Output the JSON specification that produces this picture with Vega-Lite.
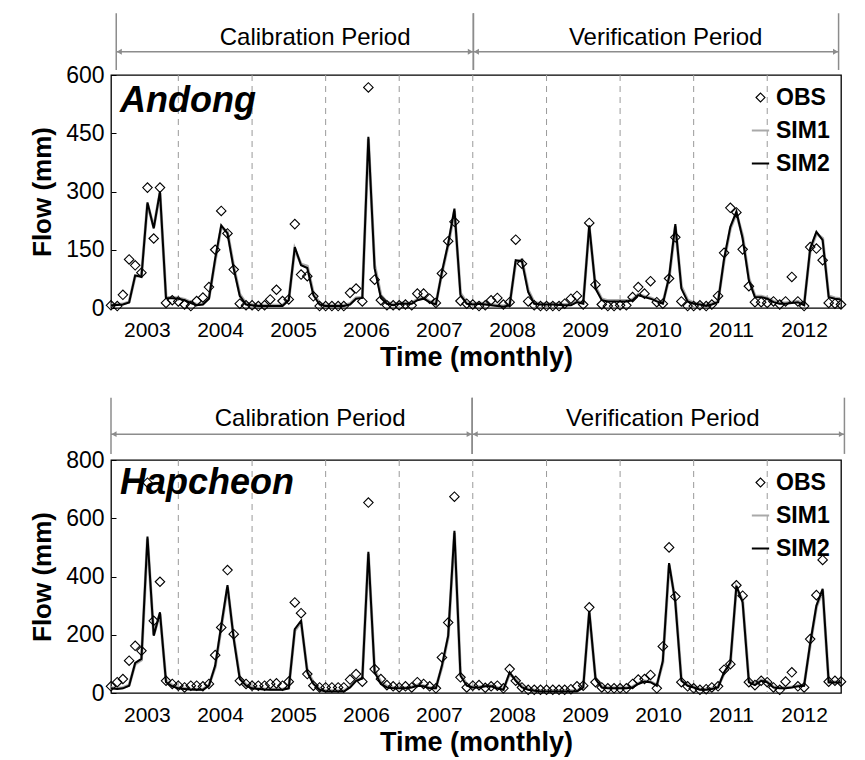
{
  "$schema": "https://vega.github.io/schema/vega-lite/v6.json",
  "background": "white",
  "padding": {"left": 28, "top": 12, "right": 5, "bottom": 5},
  "config": {"font": "Liberation Sans", "view": {"stroke": null}},
  "datasets": {
    "yearEnds": [
      {"date": "2003-12"}, {"date": "2004-12"}, {"date": "2005-12"}, {"date": "2006-12"}, {"date": "2007-12"},
      {"date": "2008-12"}, {"date": "2009-12"}, {"date": "2010-12"}, {"date": "2011-12"}
    ],
    "periodsA": [
      {"period": "Calibration Period", "start": "2003-01-27", "end": "2007-12-04", "mid": "2005-10-10"},
      {"period": "Verification Period", "start": "2007-12-04", "end": "2012-11-19", "mid": "2010-07-15"}
    ],
    "periodsB": [
      {"period": "Calibration Period", "start": "2003-01-01", "end": "2007-11-28", "mid": "2005-09-15"},
      {"period": "Verification Period", "start": "2007-11-28", "end": "2012-12-18", "mid": "2010-07-01"}
    ],
    "andong": [
      {"date": "2003-01", "obs": 7, "sim1": 8, "sim2": 7},
      {"date": "2003-02", "obs": 5, "sim1": 9, "sim2": 8},
      {"date": "2003-03", "obs": 34, "sim1": 10, "sim2": 9},
      {"date": "2003-04", "obs": 125, "sim1": 16, "sim2": 14},
      {"date": "2003-05", "obs": 110, "sim1": 82, "sim2": 84},
      {"date": "2003-06", "obs": 91, "sim1": 84, "sim2": 80},
      {"date": "2003-07", "obs": 310, "sim1": 268, "sim2": 272},
      {"date": "2003-08", "obs": 179, "sim1": 208, "sim2": 205},
      {"date": "2003-09", "obs": 310, "sim1": 296, "sim2": 300},
      {"date": "2003-10", "obs": 13, "sim1": 28, "sim2": 25},
      {"date": "2003-11", "obs": 20, "sim1": 27, "sim2": 25},
      {"date": "2003-12", "obs": 17, "sim1": 26, "sim2": 24},
      {"date": "2004-01", "obs": 9, "sim1": 22, "sim2": 20},
      {"date": "2004-02", "obs": 5, "sim1": 15, "sim2": 13},
      {"date": "2004-03", "obs": 18, "sim1": 9, "sim2": 7},
      {"date": "2004-04", "obs": 27, "sim1": 11, "sim2": 9},
      {"date": "2004-05", "obs": 54, "sim1": 26, "sim2": 24},
      {"date": "2004-06", "obs": 150, "sim1": 122, "sim2": 127},
      {"date": "2004-07", "obs": 250, "sim1": 209, "sim2": 213},
      {"date": "2004-08", "obs": 192, "sim1": 195, "sim2": 192},
      {"date": "2004-09", "obs": 99, "sim1": 106, "sim2": 101},
      {"date": "2004-10", "obs": 11, "sim1": 35, "sim2": 31},
      {"date": "2004-11", "obs": 7, "sim1": 12, "sim2": 9},
      {"date": "2004-12", "obs": 7, "sim1": 9, "sim2": 7},
      {"date": "2005-01", "obs": 5, "sim1": 7, "sim2": 5},
      {"date": "2005-02", "obs": 7, "sim1": 7, "sim2": 5},
      {"date": "2005-03", "obs": 22, "sim1": 7, "sim2": 5},
      {"date": "2005-04", "obs": 47, "sim1": 7, "sim2": 5},
      {"date": "2005-05", "obs": 18, "sim1": 7, "sim2": 5},
      {"date": "2005-06", "obs": 22, "sim1": 22, "sim2": 20},
      {"date": "2005-07", "obs": 216, "sim1": 152, "sim2": 157},
      {"date": "2005-08", "obs": 86, "sim1": 113, "sim2": 110},
      {"date": "2005-09", "obs": 82, "sim1": 108, "sim2": 103},
      {"date": "2005-10", "obs": 30, "sim1": 38, "sim2": 33},
      {"date": "2005-11", "obs": 5, "sim1": 12, "sim2": 9},
      {"date": "2005-12", "obs": 5, "sim1": 7, "sim2": 5},
      {"date": "2006-01", "obs": 5, "sim1": 7, "sim2": 5},
      {"date": "2006-02", "obs": 5, "sim1": 7, "sim2": 5},
      {"date": "2006-03", "obs": 5, "sim1": 7, "sim2": 5},
      {"date": "2006-04", "obs": 39, "sim1": 11, "sim2": 9},
      {"date": "2006-05", "obs": 50, "sim1": 26, "sim2": 24},
      {"date": "2006-06", "obs": 17, "sim1": 28, "sim2": 26},
      {"date": "2006-07", "obs": 568, "sim1": 436, "sim2": 441},
      {"date": "2006-08", "obs": 73, "sim1": 110, "sim2": 102},
      {"date": "2006-09", "obs": 20, "sim1": 33, "sim2": 26},
      {"date": "2006-10", "obs": 7, "sim1": 15, "sim2": 11},
      {"date": "2006-11", "obs": 7, "sim1": 10, "sim2": 7},
      {"date": "2006-12", "obs": 7, "sim1": 13, "sim2": 11},
      {"date": "2007-01", "obs": 9, "sim1": 13, "sim2": 11},
      {"date": "2007-02", "obs": 7, "sim1": 13, "sim2": 11},
      {"date": "2007-03", "obs": 37, "sim1": 22, "sim2": 20},
      {"date": "2007-04", "obs": 37, "sim1": 26, "sim2": 24},
      {"date": "2007-05", "obs": 24, "sim1": 17, "sim2": 15},
      {"date": "2007-06", "obs": 13, "sim1": 11, "sim2": 9},
      {"date": "2007-07", "obs": 89, "sim1": 90, "sim2": 93},
      {"date": "2007-08", "obs": 172, "sim1": 162, "sim2": 166},
      {"date": "2007-09", "obs": 222, "sim1": 250, "sim2": 256},
      {"date": "2007-10", "obs": 18, "sim1": 38, "sim2": 33},
      {"date": "2007-11", "obs": 11, "sim1": 14, "sim2": 11},
      {"date": "2007-12", "obs": 9, "sim1": 11, "sim2": 9},
      {"date": "2008-01", "obs": 5, "sim1": 13, "sim2": 11},
      {"date": "2008-02", "obs": 7, "sim1": 11, "sim2": 9},
      {"date": "2008-03", "obs": 20, "sim1": 9, "sim2": 7},
      {"date": "2008-04", "obs": 26, "sim1": 7, "sim2": 5},
      {"date": "2008-05", "obs": 9, "sim1": 5, "sim2": 3},
      {"date": "2008-06", "obs": 15, "sim1": 9, "sim2": 7},
      {"date": "2008-07", "obs": 176, "sim1": 118, "sim2": 123},
      {"date": "2008-08", "obs": 114, "sim1": 124, "sim2": 120},
      {"date": "2008-09", "obs": 17, "sim1": 46, "sim2": 41},
      {"date": "2008-10", "obs": 7, "sim1": 14, "sim2": 11},
      {"date": "2008-11", "obs": 5, "sim1": 11, "sim2": 9},
      {"date": "2008-12", "obs": 5, "sim1": 11, "sim2": 9},
      {"date": "2009-01", "obs": 5, "sim1": 11, "sim2": 9},
      {"date": "2009-02", "obs": 5, "sim1": 10, "sim2": 8},
      {"date": "2009-03", "obs": 11, "sim1": 9, "sim2": 7},
      {"date": "2009-04", "obs": 24, "sim1": 9, "sim2": 7},
      {"date": "2009-05", "obs": 31, "sim1": 17, "sim2": 15},
      {"date": "2009-06", "obs": 9, "sim1": 13, "sim2": 11},
      {"date": "2009-07", "obs": 219, "sim1": 208, "sim2": 213},
      {"date": "2009-08", "obs": 60, "sim1": 55, "sim2": 50},
      {"date": "2009-09", "obs": 9, "sim1": 23, "sim2": 20},
      {"date": "2009-10", "obs": 5, "sim1": 19, "sim2": 17},
      {"date": "2009-11", "obs": 5, "sim1": 19, "sim2": 17},
      {"date": "2009-12", "obs": 7, "sim1": 19, "sim2": 17},
      {"date": "2010-01", "obs": 7, "sim1": 19, "sim2": 17},
      {"date": "2010-02", "obs": 28, "sim1": 22, "sim2": 20},
      {"date": "2010-03", "obs": 54, "sim1": 35, "sim2": 33},
      {"date": "2010-04", "obs": 37, "sim1": 30, "sim2": 28},
      {"date": "2010-05", "obs": 69, "sim1": 26, "sim2": 24},
      {"date": "2010-06", "obs": 15, "sim1": 19, "sim2": 17},
      {"date": "2010-07", "obs": 11, "sim1": 13, "sim2": 11},
      {"date": "2010-08", "obs": 76, "sim1": 76, "sim2": 80},
      {"date": "2010-09", "obs": 182, "sim1": 210, "sim2": 216},
      {"date": "2010-10", "obs": 17, "sim1": 55, "sim2": 50},
      {"date": "2010-11", "obs": 5, "sim1": 20, "sim2": 17},
      {"date": "2010-12", "obs": 5, "sim1": 13, "sim2": 11},
      {"date": "2011-01", "obs": 7, "sim1": 11, "sim2": 9},
      {"date": "2011-02", "obs": 5, "sim1": 7, "sim2": 5},
      {"date": "2011-03", "obs": 9, "sim1": 11, "sim2": 9},
      {"date": "2011-04", "obs": 31, "sim1": 17, "sim2": 15},
      {"date": "2011-05", "obs": 142, "sim1": 122, "sim2": 127},
      {"date": "2011-06", "obs": 258, "sim1": 205, "sim2": 209},
      {"date": "2011-07", "obs": 246, "sim1": 244, "sim2": 248},
      {"date": "2011-08", "obs": 151, "sim1": 185, "sim2": 179},
      {"date": "2011-09", "obs": 56, "sim1": 76, "sim2": 71},
      {"date": "2011-10", "obs": 15, "sim1": 31, "sim2": 28},
      {"date": "2011-11", "obs": 15, "sim1": 30, "sim2": 28},
      {"date": "2011-12", "obs": 13, "sim1": 26, "sim2": 24},
      {"date": "2012-01", "obs": 17, "sim1": 17, "sim2": 15},
      {"date": "2012-02", "obs": 9, "sim1": 13, "sim2": 11},
      {"date": "2012-03", "obs": 17, "sim1": 13, "sim2": 11},
      {"date": "2012-04", "obs": 80, "sim1": 15, "sim2": 13},
      {"date": "2012-05", "obs": 17, "sim1": 17, "sim2": 15},
      {"date": "2012-06", "obs": 5, "sim1": 9, "sim2": 7},
      {"date": "2012-07", "obs": 157, "sim1": 148, "sim2": 153},
      {"date": "2012-08", "obs": 153, "sim1": 192, "sim2": 196},
      {"date": "2012-09", "obs": 123, "sim1": 179, "sim2": 175},
      {"date": "2012-10", "obs": 13, "sim1": 31, "sim2": 28},
      {"date": "2012-11", "obs": 11, "sim1": 26, "sim2": 24},
      {"date": "2012-12", "obs": 9, "sim1": 24, "sim2": 22}
    ],
    "hapcheon": [
      {"date": "2003-01", "obs": 23, "sim1": 18, "sim2": 16},
      {"date": "2003-02", "obs": 37, "sim1": 16, "sim2": 14},
      {"date": "2003-03", "obs": 48, "sim1": 18, "sim2": 16},
      {"date": "2003-04", "obs": 111, "sim1": 27, "sim2": 25},
      {"date": "2003-05", "obs": 162, "sim1": 100, "sim2": 103},
      {"date": "2003-06", "obs": 145, "sim1": 114, "sim2": 117},
      {"date": "2003-07", "obs": 722, "sim1": 530, "sim2": 537},
      {"date": "2003-08", "obs": 248, "sim1": 200, "sim2": 197},
      {"date": "2003-09", "obs": 382, "sim1": 272, "sim2": 277},
      {"date": "2003-10", "obs": 42, "sim1": 42, "sim2": 37},
      {"date": "2003-11", "obs": 31, "sim1": 27, "sim2": 23},
      {"date": "2003-12", "obs": 25, "sim1": 19, "sim2": 16},
      {"date": "2004-01", "obs": 19, "sim1": 16, "sim2": 14},
      {"date": "2004-02", "obs": 25, "sim1": 14, "sim2": 12},
      {"date": "2004-03", "obs": 25, "sim1": 13, "sim2": 11},
      {"date": "2004-04", "obs": 23, "sim1": 13, "sim2": 11},
      {"date": "2004-05", "obs": 31, "sim1": 27, "sim2": 25},
      {"date": "2004-06", "obs": 130, "sim1": 90, "sim2": 94},
      {"date": "2004-07", "obs": 225, "sim1": 226, "sim2": 231},
      {"date": "2004-08", "obs": 422, "sim1": 364, "sim2": 370},
      {"date": "2004-09", "obs": 202, "sim1": 190, "sim2": 185},
      {"date": "2004-10", "obs": 42, "sim1": 53, "sim2": 48},
      {"date": "2004-11", "obs": 31, "sim1": 29, "sim2": 25},
      {"date": "2004-12", "obs": 25, "sim1": 19, "sim2": 16},
      {"date": "2005-01", "obs": 25, "sim1": 16, "sim2": 14},
      {"date": "2005-02", "obs": 25, "sim1": 14, "sim2": 12},
      {"date": "2005-03", "obs": 31, "sim1": 13, "sim2": 11},
      {"date": "2005-04", "obs": 33, "sim1": 13, "sim2": 11},
      {"date": "2005-05", "obs": 25, "sim1": 13, "sim2": 11},
      {"date": "2005-06", "obs": 39, "sim1": 18, "sim2": 16},
      {"date": "2005-07", "obs": 311, "sim1": 214, "sim2": 219},
      {"date": "2005-08", "obs": 274, "sim1": 244, "sim2": 248},
      {"date": "2005-09", "obs": 65, "sim1": 76, "sim2": 71},
      {"date": "2005-10", "obs": 25, "sim1": 36, "sim2": 31},
      {"date": "2005-11", "obs": 19, "sim1": 14, "sim2": 11},
      {"date": "2005-12", "obs": 19, "sim1": 8, "sim2": 5},
      {"date": "2006-01", "obs": 19, "sim1": 8, "sim2": 5},
      {"date": "2006-02", "obs": 19, "sim1": 8, "sim2": 5},
      {"date": "2006-03", "obs": 19, "sim1": 8, "sim2": 5},
      {"date": "2006-04", "obs": 46, "sim1": 21, "sim2": 19},
      {"date": "2006-05", "obs": 65, "sim1": 44, "sim2": 42},
      {"date": "2006-06", "obs": 39, "sim1": 52, "sim2": 50},
      {"date": "2006-07", "obs": 654, "sim1": 478, "sim2": 485},
      {"date": "2006-08", "obs": 82, "sim1": 78, "sim2": 71},
      {"date": "2006-09", "obs": 48, "sim1": 37, "sim2": 31},
      {"date": "2006-10", "obs": 27, "sim1": 23, "sim2": 19},
      {"date": "2006-11", "obs": 23, "sim1": 19, "sim2": 16},
      {"date": "2006-12", "obs": 19, "sim1": 18, "sim2": 16},
      {"date": "2007-01", "obs": 23, "sim1": 18, "sim2": 16},
      {"date": "2007-02", "obs": 19, "sim1": 21, "sim2": 19},
      {"date": "2007-03", "obs": 37, "sim1": 27, "sim2": 25},
      {"date": "2007-04", "obs": 31, "sim1": 25, "sim2": 23},
      {"date": "2007-05", "obs": 23, "sim1": 18, "sim2": 16},
      {"date": "2007-06", "obs": 16, "sim1": 18, "sim2": 16},
      {"date": "2007-07", "obs": 122, "sim1": 90, "sim2": 94},
      {"date": "2007-08", "obs": 242, "sim1": 192, "sim2": 197},
      {"date": "2007-09", "obs": 674, "sim1": 550, "sim2": 557},
      {"date": "2007-10", "obs": 54, "sim1": 65, "sim2": 59},
      {"date": "2007-11", "obs": 19, "sim1": 29, "sim2": 25},
      {"date": "2007-12", "obs": 25, "sim1": 21, "sim2": 19},
      {"date": "2008-01", "obs": 27, "sim1": 21, "sim2": 19},
      {"date": "2008-02", "obs": 18, "sim1": 25, "sim2": 23},
      {"date": "2008-03", "obs": 23, "sim1": 25, "sim2": 23},
      {"date": "2008-04", "obs": 25, "sim1": 18, "sim2": 16},
      {"date": "2008-05", "obs": 16, "sim1": 13, "sim2": 11},
      {"date": "2008-06", "obs": 82, "sim1": 66, "sim2": 71},
      {"date": "2008-07", "obs": 42, "sim1": 47, "sim2": 42},
      {"date": "2008-08", "obs": 19, "sim1": 23, "sim2": 19},
      {"date": "2008-09", "obs": 11, "sim1": 14, "sim2": 11},
      {"date": "2008-10", "obs": 11, "sim1": 10, "sim2": 8},
      {"date": "2008-11", "obs": 11, "sim1": 8, "sim2": 5},
      {"date": "2008-12", "obs": 11, "sim1": 8, "sim2": 5},
      {"date": "2009-01", "obs": 11, "sim1": 8, "sim2": 5},
      {"date": "2009-02", "obs": 11, "sim1": 8, "sim2": 5},
      {"date": "2009-03", "obs": 11, "sim1": 8, "sim2": 5},
      {"date": "2009-04", "obs": 13, "sim1": 8, "sim2": 5},
      {"date": "2009-05", "obs": 23, "sim1": 8, "sim2": 5},
      {"date": "2009-06", "obs": 25, "sim1": 21, "sim2": 19},
      {"date": "2009-07", "obs": 294, "sim1": 276, "sim2": 282},
      {"date": "2009-08", "obs": 37, "sim1": 52, "sim2": 48},
      {"date": "2009-09", "obs": 19, "sim1": 22, "sim2": 19},
      {"date": "2009-10", "obs": 16, "sim1": 18, "sim2": 16},
      {"date": "2009-11", "obs": 16, "sim1": 18, "sim2": 16},
      {"date": "2009-12", "obs": 16, "sim1": 18, "sim2": 16},
      {"date": "2010-01", "obs": 16, "sim1": 18, "sim2": 16},
      {"date": "2010-02", "obs": 31, "sim1": 21, "sim2": 19},
      {"date": "2010-03", "obs": 46, "sim1": 33, "sim2": 31},
      {"date": "2010-04", "obs": 48, "sim1": 41, "sim2": 39},
      {"date": "2010-05", "obs": 62, "sim1": 39, "sim2": 37},
      {"date": "2010-06", "obs": 16, "sim1": 27, "sim2": 25},
      {"date": "2010-07", "obs": 160, "sim1": 105, "sim2": 110},
      {"date": "2010-08", "obs": 500, "sim1": 440, "sim2": 446},
      {"date": "2010-09", "obs": 331, "sim1": 316, "sim2": 311},
      {"date": "2010-10", "obs": 37, "sim1": 47, "sim2": 42},
      {"date": "2010-11", "obs": 23, "sim1": 28, "sim2": 25},
      {"date": "2010-12", "obs": 16, "sim1": 21, "sim2": 19},
      {"date": "2011-01", "obs": 11, "sim1": 13, "sim2": 11},
      {"date": "2011-02", "obs": 13, "sim1": 13, "sim2": 11},
      {"date": "2011-03", "obs": 19, "sim1": 16, "sim2": 14},
      {"date": "2011-04", "obs": 23, "sim1": 21, "sim2": 19},
      {"date": "2011-05", "obs": 80, "sim1": 67, "sim2": 71},
      {"date": "2011-06", "obs": 99, "sim1": 101, "sim2": 105},
      {"date": "2011-07", "obs": 370, "sim1": 362, "sim2": 368},
      {"date": "2011-08", "obs": 334, "sim1": 316, "sim2": 311},
      {"date": "2011-09", "obs": 37, "sim1": 42, "sim2": 37},
      {"date": "2011-10", "obs": 27, "sim1": 30, "sim2": 27},
      {"date": "2011-11", "obs": 42, "sim1": 44, "sim2": 42},
      {"date": "2011-12", "obs": 37, "sim1": 39, "sim2": 37},
      {"date": "2012-01", "obs": 19, "sim1": 21, "sim2": 19},
      {"date": "2012-02", "obs": 11, "sim1": 18, "sim2": 16},
      {"date": "2012-03", "obs": 39, "sim1": 18, "sim2": 16},
      {"date": "2012-04", "obs": 71, "sim1": 21, "sim2": 19},
      {"date": "2012-05", "obs": 23, "sim1": 25, "sim2": 23},
      {"date": "2012-06", "obs": 19, "sim1": 27, "sim2": 25},
      {"date": "2012-07", "obs": 185, "sim1": 165, "sim2": 170},
      {"date": "2012-08", "obs": 336, "sim1": 295, "sim2": 300},
      {"date": "2012-09", "obs": 457, "sim1": 352, "sim2": 358},
      {"date": "2012-10", "obs": 39, "sim1": 39, "sim2": 36},
      {"date": "2012-11", "obs": 42, "sim1": 38, "sim2": 36},
      {"date": "2012-12", "obs": 39, "sim1": 38, "sim2": 36}
    ]
  },
  "vconcat": [
    {
      "width": 730, "height": 63,
      "data": {"name": "periodsA"},
      "layer": [
        {"mark": {"type": "rule", "color": "#8c8c8c", "strokeWidth": 1.5},
         "encoding": {"x": {"field": "start", "type": "temporal", "axis": null, "scale": {"type": "utc", "domain": [{"year": 2003, "month": 1, "date": 1, "utc": true}, {"year": 2012, "month": 12, "date": 1, "utc": true}]}},
                      "y": {"datum": 0.08, "type": "quantitative", "axis": null, "scale": {"domain": [0, 1]}}, "y2": {"datum": 0.98}}},
        {"mark": {"type": "rule", "color": "#8c8c8c", "strokeWidth": 1.5},
         "encoding": {"x": {"field": "end", "type": "temporal"}, "y": {"datum": 0.08, "type": "quantitative"}, "y2": {"datum": 0.98}}},
        {"mark": {"type": "rule", "color": "#8c8c8c", "strokeWidth": 1.5},
         "encoding": {"x": {"field": "start", "type": "temporal"}, "x2": {"field": "end"}, "y": {"datum": 0.37, "type": "quantitative"}}},
        {"mark": {"type": "point", "shape": "triangle-left", "filled": true, "color": "#8c8c8c", "size": 35, "opacity": 1, "xOffset": 3},
         "encoding": {"x": {"field": "start", "type": "temporal"}, "y": {"datum": 0.37, "type": "quantitative"}}},
        {"mark": {"type": "point", "shape": "triangle-right", "filled": true, "color": "#8c8c8c", "size": 35, "opacity": 1, "xOffset": -3},
         "encoding": {"x": {"field": "end", "type": "temporal"}, "y": {"datum": 0.37, "type": "quantitative"}}},
        {"mark": {"type": "text", "fontSize": 24, "align": "center", "baseline": "middle", "color": "black", "font": "Liberation Sans"},
         "encoding": {"x": {"field": "mid", "type": "temporal"}, "y": {"datum": 0.59, "type": "quantitative"}, "text": {"field": "period"}}}
      ]
    },
    {
      "width": 730, "height": 233,
      "view": {"stroke": "black", "strokeWidth": 1.3, "fill": "white"},
      "layer": [
        {"data": {"name": "yearEnds"},
         "mark": {"type": "rule", "color": "#9a9a9a", "strokeDash": [6, 5], "strokeWidth": 1},
         "encoding": {"x": {"field": "date", "type": "temporal",
           "scale": {"type": "utc", "domain": [{"year": 2003, "month": 1, "date": 1, "utc": true}, {"year": 2012, "month": 12, "date": 1, "utc": true}]},
           "axis": {"values": [{"year": 2003, "month": 6, "date": 28, "utc": true}, {"year": 2004, "month": 6, "date": 25, "utc": true}, {"year": 2005, "month": 6, "date": 22, "utc": true}, {"year": 2006, "month": 6, "date": 19, "utc": true}, {"year": 2007, "month": 6, "date": 16, "utc": true}, {"year": 2008, "month": 6, "date": 13, "utc": true}, {"year": 2009, "month": 6, "date": 10, "utc": true}, {"year": 2010, "month": 6, "date": 7, "utc": true}, {"year": 2011, "month": 6, "date": 4, "utc": true}, {"year": 2012, "month": 6, "date": 1, "utc": true}],
             "labelExpr": "utcFormat(datum.value, '%Y')", "labelFlush": false, "labelOverlap": false,
             "ticks": false, "domain": false, "grid": false, "labelAngle": 0,
             "labelFont": "Liberation Sans", "labelFontSize": 21, "labelColor": "black", "labelPadding": 11,
             "title": "Time (monthly)", "titleFont": "Liberation Sans", "titleFontSize": 27, "titleFontWeight": "bold", "titleColor": "black", "titlePadding": 4}}}},
        {"data": {"name": "andong"},
         "mark": {"type": "line", "strokeWidth": 3},
         "encoding": {"x": {"field": "date", "type": "temporal"},
           "y": {"field": "sim1", "type": "quantitative", "scale": {"domain": [0, 600], "nice": false},
             "axis": {"values": [0, 150, 300, 450, 600], "grid": false, "domain": false, "tickSize": -5, "tickColor": "black", "labelPadding": 12,
               "labelFont": "Liberation Sans", "labelFontSize": 23, "labelColor": "black",
               "title": "Flow (mm)", "titleFont": "Liberation Sans", "titleFontSize": 26, "titleFontWeight": "bold", "titleColor": "black", "titlePadding": 10}},
           "color": {"datum": "SIM1", "scale": {"domain": ["OBS", "SIM1", "SIM2"], "range": ["black", "#a9a9a9", "black"]},
             "legend": {"title": null, "orient": "top-right", "offset": 11, "padding": 0, "labelFont": "Liberation Sans", "labelFontSize": 23, "labelFontWeight": "bold", "labelColor": "black", "symbolType": "stroke", "symbolSize": 300, "symbolStrokeWidth": 2, "rowPadding": 9, "labelOffset": 4,
               "encode": {"symbols": {"update": {"shape": {"signal": "datum.value === 'OBS' ? 'diamond' : 'stroke'"}, "size": {"signal": "datum.value === 'OBS' ? 80 : 300"}, "strokeWidth": {"signal": "datum.value === 'OBS' ? 1.1 : 2"}, "fill": {"value": "transparent"}}}}}}}},
        {"data": {"name": "andong"},
         "mark": {"type": "line", "strokeWidth": 2},
         "encoding": {"x": {"field": "date", "type": "temporal"}, "y": {"field": "sim2", "type": "quantitative"}, "color": {"datum": "SIM2"}}},
        {"data": {"name": "andong"},
         "mark": {"type": "point", "shape": "diamond", "filled": false, "size": 90, "strokeWidth": 1.1, "opacity": 1},
         "encoding": {"x": {"field": "date", "type": "temporal"}, "y": {"field": "obs", "type": "quantitative"}, "color": {"datum": "OBS"}}},
        {"data": {"values": [{"station": "Andong"}]},
         "mark": {"type": "text", "font": "Liberation Sans", "fontSize": 36, "fontWeight": "bold", "fontStyle": "italic", "align": "left", "baseline": "alphabetic", "color": "black"},
         "encoding": {"x": {"datum": {"year": 2003, "month": 2, "date": 15, "utc": true}, "type": "temporal"}, "y": {"datum": 504, "type": "quantitative"}, "text": {"field": "station"}}}
      ]
    },
    {
      "width": 730, "height": 152,
      "data": {"name": "periodsB"},
      "layer": [
        {"mark": {"type": "rule", "color": "#8c8c8c", "strokeWidth": 1.5},
         "encoding": {"x": {"field": "start", "type": "temporal", "axis": null, "scale": {"type": "utc", "domain": [{"year": 2003, "month": 1, "date": 1, "utc": true}, {"year": 2012, "month": 12, "date": 1, "utc": true}]}},
                      "y": {"datum": 0.04, "type": "quantitative", "axis": null, "scale": {"domain": [0, 1]}}, "y2": {"datum": 0.41}}},
        {"mark": {"type": "rule", "color": "#8c8c8c", "strokeWidth": 1.5},
         "encoding": {"x": {"field": "end", "type": "temporal"}, "y": {"datum": 0.04, "type": "quantitative"}, "y2": {"datum": 0.41}}},
        {"mark": {"type": "rule", "color": "#8c8c8c", "strokeWidth": 1.5},
         "encoding": {"x": {"field": "start", "type": "temporal"}, "x2": {"field": "end"}, "y": {"datum": 0.17, "type": "quantitative"}}},
        {"mark": {"type": "point", "shape": "triangle-left", "filled": true, "color": "#8c8c8c", "size": 35, "opacity": 1, "xOffset": 3},
         "encoding": {"x": {"field": "start", "type": "temporal"}, "y": {"datum": 0.17, "type": "quantitative"}}},
        {"mark": {"type": "point", "shape": "triangle-right", "filled": true, "color": "#8c8c8c", "size": 35, "opacity": 1, "xOffset": -3},
         "encoding": {"x": {"field": "end", "type": "temporal"}, "y": {"datum": 0.17, "type": "quantitative"}}},
        {"mark": {"type": "text", "fontSize": 24, "align": "center", "baseline": "middle", "color": "black", "font": "Liberation Sans"},
         "encoding": {"x": {"field": "mid", "type": "temporal"}, "y": {"datum": 0.27, "type": "quantitative"}, "text": {"field": "period"}}}
      ]
    },
    {
      "width": 730, "height": 233,
      "view": {"stroke": "black", "strokeWidth": 1.3, "fill": "white"},
      "layer": [
        {"data": {"name": "yearEnds"},
         "mark": {"type": "rule", "color": "#9a9a9a", "strokeDash": [6, 5], "strokeWidth": 1},
         "encoding": {"x": {"field": "date", "type": "temporal",
           "scale": {"type": "utc", "domain": [{"year": 2003, "month": 1, "date": 1, "utc": true}, {"year": 2012, "month": 12, "date": 1, "utc": true}]},
           "axis": {"values": [{"year": 2003, "month": 6, "date": 28, "utc": true}, {"year": 2004, "month": 6, "date": 25, "utc": true}, {"year": 2005, "month": 6, "date": 22, "utc": true}, {"year": 2006, "month": 6, "date": 19, "utc": true}, {"year": 2007, "month": 6, "date": 16, "utc": true}, {"year": 2008, "month": 6, "date": 13, "utc": true}, {"year": 2009, "month": 6, "date": 10, "utc": true}, {"year": 2010, "month": 6, "date": 7, "utc": true}, {"year": 2011, "month": 6, "date": 4, "utc": true}, {"year": 2012, "month": 6, "date": 1, "utc": true}],
             "labelExpr": "utcFormat(datum.value, '%Y')", "labelFlush": false, "labelOverlap": false,
             "ticks": false, "domain": false, "grid": false, "labelAngle": 0,
             "labelFont": "Liberation Sans", "labelFontSize": 21, "labelColor": "black", "labelPadding": 11,
             "title": "Time (monthly)", "titleFont": "Liberation Sans", "titleFontSize": 27, "titleFontWeight": "bold", "titleColor": "black", "titlePadding": 4}}}},
        {"data": {"name": "hapcheon"},
         "mark": {"type": "line", "strokeWidth": 3},
         "encoding": {"x": {"field": "date", "type": "temporal"},
           "y": {"field": "sim1", "type": "quantitative", "scale": {"domain": [0, 800], "nice": false},
             "axis": {"values": [0, 200, 400, 600, 800], "grid": false, "domain": false, "tickSize": -5, "tickColor": "black", "labelPadding": 12,
               "labelFont": "Liberation Sans", "labelFontSize": 23, "labelColor": "black",
               "title": "Flow (mm)", "titleFont": "Liberation Sans", "titleFontSize": 26, "titleFontWeight": "bold", "titleColor": "black", "titlePadding": 10}},
           "color": {"datum": "SIM1", "scale": {"domain": ["OBS", "SIM1", "SIM2"], "range": ["black", "#a9a9a9", "black"]},
             "legend": {"title": null, "orient": "top-right", "offset": 11, "padding": 0, "labelFont": "Liberation Sans", "labelFontSize": 23, "labelFontWeight": "bold", "labelColor": "black", "symbolType": "stroke", "symbolSize": 300, "symbolStrokeWidth": 2, "rowPadding": 9, "labelOffset": 4,
               "encode": {"symbols": {"update": {"shape": {"signal": "datum.value === 'OBS' ? 'diamond' : 'stroke'"}, "size": {"signal": "datum.value === 'OBS' ? 80 : 300"}, "strokeWidth": {"signal": "datum.value === 'OBS' ? 1.1 : 2"}, "fill": {"value": "transparent"}}}}}}}},
        {"data": {"name": "hapcheon"},
         "mark": {"type": "line", "strokeWidth": 2},
         "encoding": {"x": {"field": "date", "type": "temporal"}, "y": {"field": "sim2", "type": "quantitative"}, "color": {"datum": "SIM2"}}},
        {"data": {"name": "hapcheon"},
         "mark": {"type": "point", "shape": "diamond", "filled": false, "size": 90, "strokeWidth": 1.1, "opacity": 1},
         "encoding": {"x": {"field": "date", "type": "temporal"}, "y": {"field": "obs", "type": "quantitative"}, "color": {"datum": "OBS"}}},
        {"data": {"values": [{"station": "Hapcheon"}]},
         "mark": {"type": "text", "font": "Liberation Sans", "fontSize": 36, "fontWeight": "bold", "fontStyle": "italic", "align": "left", "baseline": "alphabetic", "color": "black"},
         "encoding": {"x": {"datum": {"year": 2003, "month": 2, "date": 15, "utc": true}, "type": "temporal"}, "y": {"datum": 682, "type": "quantitative"}, "text": {"field": "station"}}}
      ]
    }
  ],
  "spacing": 0,
  "bounds": "flush",
  "resolve": {"scale": {"x": "independent", "y": "independent", "color": "independent"}, "legend": {"color": "independent"}}
}
